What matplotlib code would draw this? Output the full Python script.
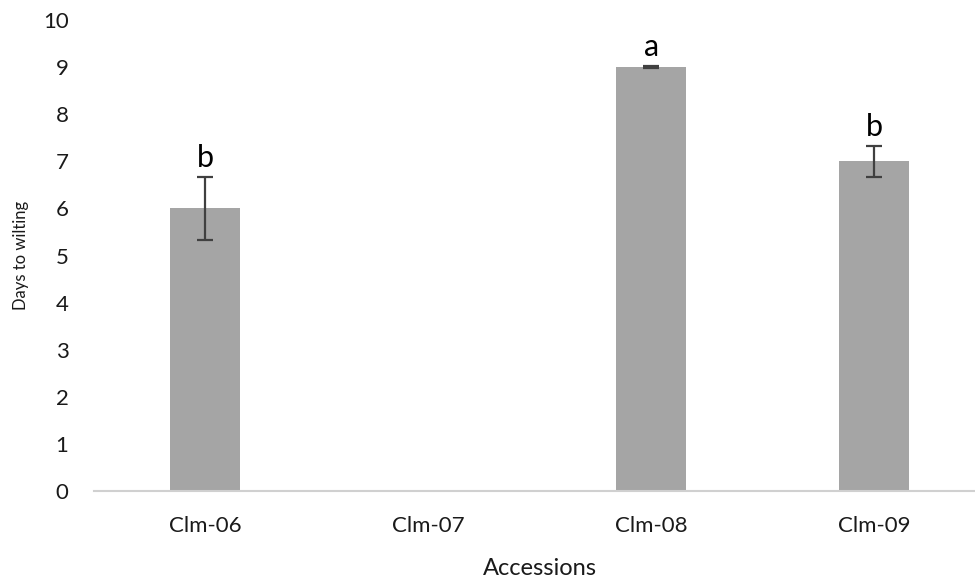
import matplotlib
matplotlib.use("Agg")
import matplotlib.pyplot as plt

# Days to wilting per accession
accessions = ["Clm-06", "Clm-07", "Clm-08", "Clm-09"]
days = [6, 0, 9, 7]
errors = [0.67, 0, 0.02, 0.33]
letters = ["b", "", "a", "b"]

plt.rcParams['font.family'] = ['Lato', 'DejaVu Sans']

fig = plt.figure(figsize=(9.75, 5.8), dpi=100)
ax = fig.add_axes([0.0959, 0.1534, 0.915, 0.8121])

x = list(range(len(accessions)))
ax.bar(x, days, width=0.315, color='#A5A5A5', zorder=2)
shown = [i for i in x if days[i] > 0]
ax.errorbar([x[i] for i in shown], [days[i] for i in shown],
            yerr=[errors[i] for i in shown], fmt='none', ecolor='#404040',
            elinewidth=1.6, capsize=6, capthick=1.6, zorder=3)

for i in x:
    if letters[i]:
        ax.text(x[i], days[i] + errors[i] + 0.1, letters[i], ha='center', va='bottom',
                fontsize=22, color='black')

ax.set_xlim(-0.5, 3.5)
ax.set_ylim(0, 10)
ax.set_yticks(range(0, 11))
ax.set_xticks(x)
ax.set_xticklabels(accessions)
ax.tick_params(axis='both', length=0, labelsize=16, colors='#1a1a1a')
ax.tick_params(axis='y', pad=18)
ax.tick_params(axis='x', pad=18)

for side in ['top', 'right', 'left']:
    ax.spines[side].set_visible(False)
ax.spines['bottom'].set_color('#D0D0D0')
ax.spines['bottom'].set_linewidth(1.5)

ax.set_xlabel('Accessions', fontsize=17, color='#1a1a1a', labelpad=16)
ax.set_ylabel('Days to wilting', fontsize=12, color='#1a1a1a', labelpad=10)

fig.savefig('out.png', dpi=100)
